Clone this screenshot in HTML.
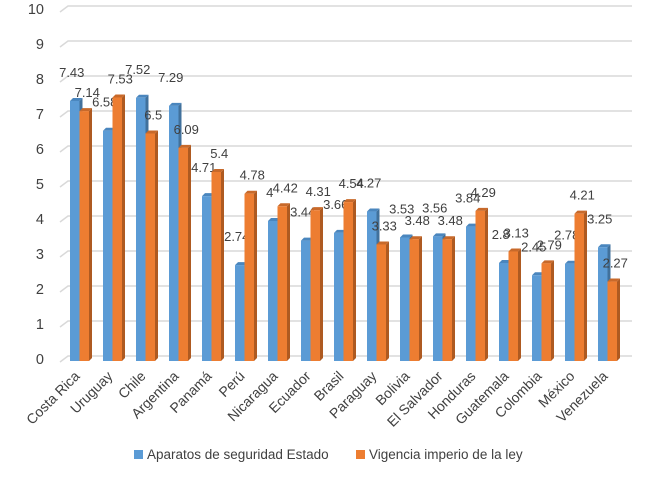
<!DOCTYPE html>
<html><head><meta charset="utf-8"><style>
body{margin:0;background:#fff;font-family:"Liberation Sans",sans-serif}
svg text{font-family:"Liberation Sans",sans-serif;fill:#404040}
</style></head><body>
<svg id="c" width="650" height="493" viewBox="0 0 650 493" xmlns="http://www.w3.org/2000/svg">
<g id="grid"></g>
<g id="yax"></g>
<g id="bars"></g>
<g id="xax"></g>
<g>
<rect x="134" y="450" width="9" height="9" fill="#5b9bd5"/>
<text x="147" y="459" font-size="13.5">Aparatos de seguridad Estado</text>
<rect x="356" y="450" width="9" height="9" fill="#ed7d31"/>
<text x="369" y="459" font-size="13.5">Vigencia imperio de la ley</text>
</g>
</svg>
<script>
const categories=["Costa Rica","Uruguay","Chile","Argentina","Panamá","Perú","Nicaragua","Ecuador","Brasil","Paraguay","Bolivia","El Salvador","Honduras","Guatemala","Colombia","México","Venezuela"];
const seguridad=[7.43,6.58,7.52,7.29,4.71,2.74,4,3.44,3.66,4.27,3.53,3.56,3.84,2.8,2.45,2.78,3.25];
const ley=[7.14,7.53,6.5,6.09,5.4,4.78,4.42,4.31,4.54,3.33,3.48,3.48,4.29,3.13,2.79,4.21,2.27];
const yTicks=[0,1,2,3,4,5,6,7,8,9,10];
const NS="http://www.w3.org/2000/svg";
const y0=361,k=35,dx=3,dy=3,x0=70,step=33,bw=9.5;
const yF=v=>y0-v*k;
const xF=i=>x0+i*step;
function mk(t,a,p){const e=document.createElementNS(NS,t);for(const n in a)e.setAttribute(n,a[n]);p.appendChild(e);return e;}
const grid=document.getElementById('grid'),yax=document.getElementById('yax'),bars=document.getElementById('bars'),xax=document.getElementById('xax');
yTicks.forEach(v=>{
 const y=yF(v)+1;
 const p=mk('polyline',{points:`${60},${y} ${68},${y-6} 632,${y-6}`,fill:'none',stroke:'#d9d9d9','stroke-width':1.5},grid);
 
 
 const t=mk('text',{x:44,y:y+2,'text-anchor':'end','font-size':14.5},yax);
 t.textContent=v;
 
 
});
function bar(x,v,front,side,top,name,lab,ly,lx){
 const g=mk('g',{},bars);
 
 
 const yt=yF(v);
 mk('polygon',{points:`${x+bw},${yt} ${x+bw+dx},${yt-dy} ${x+bw+dx},${y0-dy} ${x+bw},${y0}`,fill:side},g);
 mk('polygon',{points:`${x},${yt} ${x+dx},${yt-dy} ${x+bw+dx},${yt-dy} ${x+bw},${yt}`,fill:top},g);
 mk('rect',{x:x,y:yt,width:bw,height:y0-yt,fill:front},g);
 const t=mk('text',{x:x+bw/2+lx,y:yt-ly,'text-anchor':'middle','font-size':13},g);
 t.textContent=lab;
 
 
}
categories.forEach((c,i)=>{
 const x=xF(i);
 bar(x,seguridad[i],'#5b9bd5','#41719c','#4a86be','bar-seguridad-'+i,seguridad[i],24,-3);
 bar(x+bw,ley[i],'#ed7d31','#ae5a21','#c8692a','bar-ley-'+i,ley[i],14,3);
 const ax=x+bw+1;
 const t=mk('text',{x:ax,y:377,'text-anchor':'end','font-size':14,transform:`rotate(-45 ${ax} 377)`},xax);
 t.textContent=c;
 
 
});
</script>
</body></html>
